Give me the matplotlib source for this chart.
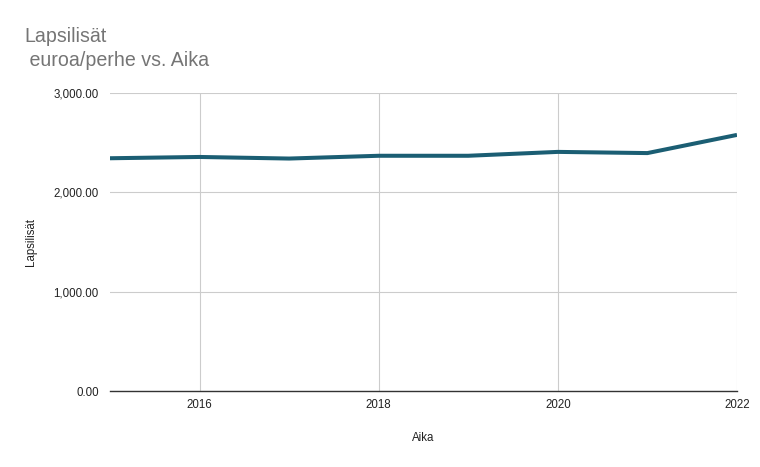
import matplotlib
matplotlib.use('Agg')
from matplotlib import pyplot as plt
from matplotlib.ticker import FuncFormatter

plt.rcParams['font.family'] = ['Liberation Sans', 'DejaVu Sans']

# data
years = [2015, 2016, 2017, 2018, 2019, 2020, 2021, 2022]
values = [2343, 2356, 2340, 2368, 2368, 2407, 2395, 2578]
xticks = [2016, 2018, 2020, 2022]
yticks = [0, 1000, 2000, 3000]

fig = plt.figure(figsize=(7.6, 4.67), dpi=100)
ax = fig.add_axes([0.1447, 0.1627, 0.825, 0.6382])

ax.plot(years, values, color='#1b5e73', linewidth=2.9, solid_capstyle='butt')

ax.set_xlim(2015, 2022)
ax.set_ylim(0, 3000)
ax.set_xticks(xticks)
ax.set_yticks(yticks)
ax.yaxis.set_major_formatter(FuncFormatter(lambda v, p: '{:,.2f}'.format(v)))
ax.grid(True, color='#cccccc', linewidth=0.8)
ax.set_axisbelow(True)
for s in ['top', 'right', 'left']:
  ax.spines[s].set_visible(False)
ax.spines['bottom'].set_color('#333333')
ax.spines['bottom'].set_linewidth(1.0)
ax.tick_params(length=0, labelsize=8.3, colors='#222222', pad=6)
ax.tick_params(axis='y', pad=8)

ax.set_xlabel('Aika', fontsize=8.3, color='#222222', labelpad=15)
ax.set_ylabel('Lapsilisät', fontsize=8.3, color='#222222', labelpad=12)

fig.text(24 / 760, 1 - 42 / 467, 'Lapsilisät', fontsize=14.1, color='#757575')
fig.text(24 / 760, 1 - 66 / 467, ' euroa/perhe vs. Aika', fontsize=14.1, color='#757575')

plt.savefig('out.png', dpi=100)
